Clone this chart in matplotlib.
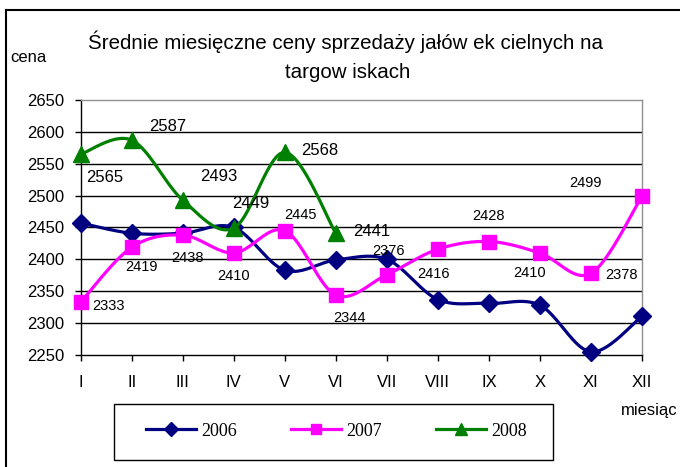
import numpy as np
import matplotlib
matplotlib.use("Agg")
import matplotlib.pyplot as plt
from matplotlib.lines import Line2D
from matplotlib.patches import Rectangle

months = ["I", "II", "III", "IV", "V", "VI", "VII", "VIII", "IX", "X", "XI", "XII"]
v2006 = [2457, 2441, 2441, 2450, 2383, 2399, 2400, 2337, 2331, 2328, 2255, 2311]
v2007 = [2333, 2419, 2438, 2410, 2445, 2344, 2376, 2416, 2428, 2410, 2378, 2499]
v2008 = [2565, 2587, 2493, 2449, 2568, 2441]
yticks = [2250, 2300, 2350, 2400, 2450, 2500, 2550, 2600, 2650]

# label offsets in pixels (dx, dy)
off2007 = [(28, -4), (10, -20), (5, -23), (0, -23), (16, 16), (14, -23),
           (2, 24), (-4, -25), (0, 26), (-10, -20), (31, -2), (-56, 13)]
off2008 = [(24, -23), (36, 14), (36, 24), (17, 25), (35, 2), (36, 2)]

plt.rcParams['font.family'] = ['Liberation Sans', 'DejaVu Sans']

W, H = 680, 467
fig = plt.figure(figsize=(W / 100, H / 100), dpi=100)
ax = fig.add_axes([80.7 / W, 1 - 355 / H, (642 - 80.7) / W, 255 / H])


def smooth(xs, ys, n=24):
    p = np.column_stack([xs, ys]).astype(float)
    m = len(p)
    out = []
    for i in range(m - 1):
        p0 = p[i - 1] if i > 0 else p[i]
        p1 = p[i]
        p2 = p[i + 1]
        p3 = p[i + 2] if i + 2 < m else p[i + 1]
        c1 = p1 + (p2 - p0) / 6.0
        c2 = p2 - (p3 - p1) / 6.0
        t = np.linspace(0, 1, n)[:, None]
        seg = ((1 - t) ** 3) * p1 + 3 * ((1 - t) ** 2) * t * c1 + 3 * (1 - t) * t ** 2 * c2 + t ** 3 * p2
        out.append(seg if i == 0 else seg[1:])
    s = np.vstack(out)
    return s[:, 0], s[:, 1]


series = [
    ("2006", v2006, "#000080", "D", 9, None, 7),
    ("2007", v2007, "#FF00FF", "s", 10, off2007, 7.5),
    ("2008", v2008, "#008000", "^", 11, off2008, 8.5),
]

handles = []
for z, (name, vals, col, mk, ms, offs, lms) in enumerate(series):
    x = np.arange(len(vals))
    sx, sy = smooth(x, vals)
    ax.plot(sx, sy, color=col, lw=2.3, zorder=3 + z, clip_on=False, solid_capstyle='round')
    ax.plot(x, vals, ls='none', marker=mk, ms=ms, color=col, mec=col, zorder=3 + z, clip_on=False)
    handles.append(Line2D([], [], color=col, lw=2.3, marker=mk, ms=lms, mec=col))
    if offs is not None:
        fs = 12 if name == "2008" else 10.5
        for xi, v, (dx, dy) in zip(x, vals, offs):
            ax.annotate(str(v), (xi, v), xytext=(dx, dy), textcoords='offset pixels',
                        ha='center', va='center', fontsize=fs, color='black', zorder=10,
                        annotation_clip=False)

ax.set_xlim(0, 11)
ax.set_ylim(2250, 2650)
ax.set_yticks(yticks)
ax.set_yticklabels([str(t) for t in yticks], fontsize=12)
ax.set_xticks(range(12))
ax.set_xticklabels(months, fontsize=12)
ax.tick_params(axis='y', direction='out', length=4.5, width=1, pad=7)
ax.tick_params(axis='x', direction='out', length=4.5, width=1, pad=10)
for t in yticks[1:-1]:
    ax.axhline(t, color='black', lw=1, zorder=1)
ax.spines['left'].set_color('black')
ax.spines['bottom'].set_color('black')
ax.spines['top'].set_color('#909090')
ax.spines['right'].set_color('#909090')
for s in ax.spines.values():
    s.set_linewidth(1)

fig.text(346 / W, 1 - 42 / H, "Średnie miesięczne ceny sprzedaży jałów ek cielnych na",
         ha='center', va='center', fontsize=14.8)
fig.text(348 / W, 1 - 72 / H, "targow iskach", ha='center', va='center', fontsize=14.8)
fig.text(10 / W, 1 - 58 / H, "cena", ha='left', va='center', fontsize=12)
fig.text(621 / W, 1 - 411 / H, "miesiąc", ha='left', va='center', fontsize=12)

fig.add_artist(Rectangle((114 / W, 1 - 460 / H), (553 - 114) / W, 56 / H,
                         transform=fig.transFigure, facecolor='white', edgecolor='black', lw=1))
leg = fig.legend(handles, ["2006", "2007", "2008"], ncol=3,
                 bbox_to_anchor=(336.5 / W, 1 - 431 / H), loc='center',
                 borderaxespad=0, frameon=False,
                 prop={'family': 'Liberation Serif', 'size': 13},
                 handlelength=2.77, handletextpad=0.28, columnspacing=3.0, borderpad=0)

fig.add_artist(Line2D([6 / W, 6 / W], [0, 1 - 10 / H], color='black', lw=1.5, transform=fig.transFigure))
fig.add_artist(Line2D([6 / W, 1], [1 - 10 / H, 1 - 10 / H], color='black', lw=1.5, transform=fig.transFigure))

fig.savefig("out.png", dpi=100)
